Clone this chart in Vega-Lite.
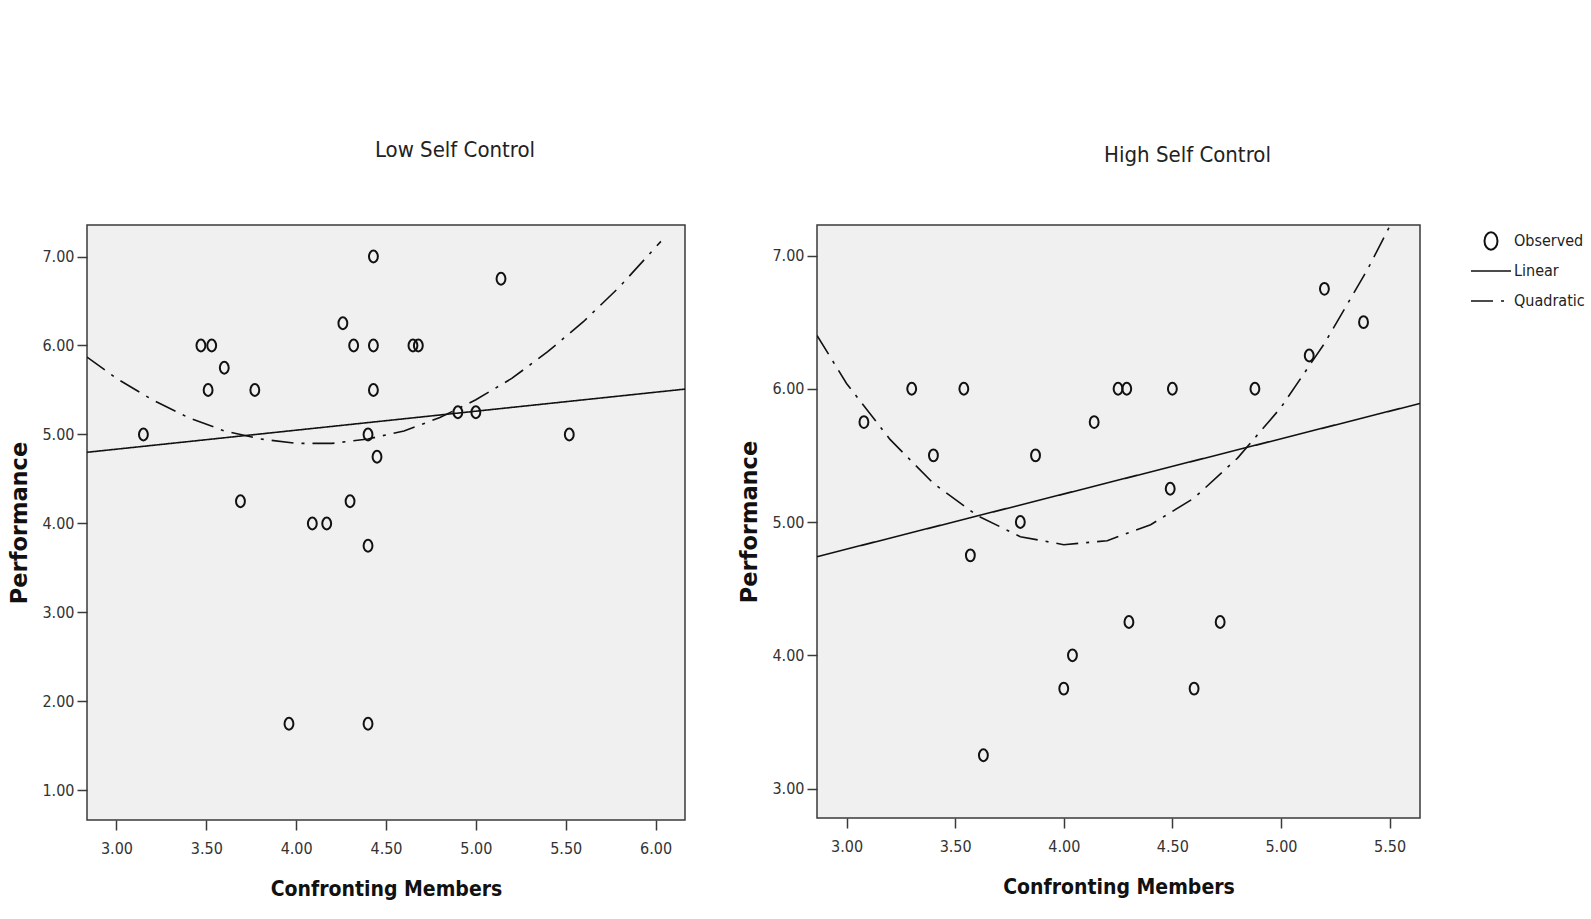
{
  "$schema": "https://vega.github.io/schema/vega-lite/v6.json",
  "background": "white",
  "padding": {"left": 8, "top": 138, "right": 0, "bottom": 5},
  "spacing": 52,
  "datasets": {
    "lowPts": [
      {"x": 3.15, "y": 5.0, "kind": "Observed"},
      {"x": 3.47, "y": 6.0, "kind": "Observed"},
      {"x": 3.53, "y": 6.0, "kind": "Observed"},
      {"x": 3.60, "y": 5.75, "kind": "Observed"},
      {"x": 3.51, "y": 5.5, "kind": "Observed"},
      {"x": 3.77, "y": 5.5, "kind": "Observed"},
      {"x": 3.69, "y": 4.25, "kind": "Observed"},
      {"x": 3.96, "y": 1.75, "kind": "Observed"},
      {"x": 4.09, "y": 4.0, "kind": "Observed"},
      {"x": 4.17, "y": 4.0, "kind": "Observed"},
      {"x": 4.26, "y": 6.25, "kind": "Observed"},
      {"x": 4.32, "y": 6.0, "kind": "Observed"},
      {"x": 4.30, "y": 4.25, "kind": "Observed"},
      {"x": 4.43, "y": 7.0, "kind": "Observed"},
      {"x": 4.43, "y": 6.0, "kind": "Observed"},
      {"x": 4.43, "y": 5.5, "kind": "Observed"},
      {"x": 4.40, "y": 5.0, "kind": "Observed"},
      {"x": 4.45, "y": 4.75, "kind": "Observed"},
      {"x": 4.40, "y": 3.75, "kind": "Observed"},
      {"x": 4.40, "y": 1.75, "kind": "Observed"},
      {"x": 4.65, "y": 6.0, "kind": "Observed"},
      {"x": 4.68, "y": 6.0, "kind": "Observed"},
      {"x": 4.90, "y": 5.25, "kind": "Observed"},
      {"x": 5.00, "y": 5.25, "kind": "Observed"},
      {"x": 5.14, "y": 6.75, "kind": "Observed"},
      {"x": 5.52, "y": 5.0, "kind": "Observed"}
    ],
    "lowFit": [
      {"x": 2.836, "y": 4.80, "fit": "Linear"},
      {"x": 6.164, "y": 5.51, "fit": "Linear"},
      {"x": 2.836, "y": 5.87, "fit": "Quadratic"},
      {"x": 3.0, "y": 5.63, "fit": "Quadratic"},
      {"x": 3.2, "y": 5.39, "fit": "Quadratic"},
      {"x": 3.4, "y": 5.19, "fit": "Quadratic"},
      {"x": 3.6, "y": 5.04, "fit": "Quadratic"},
      {"x": 3.8, "y": 4.95, "fit": "Quadratic"},
      {"x": 4.0, "y": 4.90, "fit": "Quadratic"},
      {"x": 4.2, "y": 4.90, "fit": "Quadratic"},
      {"x": 4.4, "y": 4.95, "fit": "Quadratic"},
      {"x": 4.6, "y": 5.04, "fit": "Quadratic"},
      {"x": 4.8, "y": 5.19, "fit": "Quadratic"},
      {"x": 5.0, "y": 5.39, "fit": "Quadratic"},
      {"x": 5.2, "y": 5.63, "fit": "Quadratic"},
      {"x": 5.4, "y": 5.93, "fit": "Quadratic"},
      {"x": 5.6, "y": 6.27, "fit": "Quadratic"},
      {"x": 5.8, "y": 6.66, "fit": "Quadratic"},
      {"x": 6.03, "y": 7.17, "fit": "Quadratic"}
    ],
    "highPts": [
      {"x": 3.08, "y": 5.75, "kind": "Observed"},
      {"x": 3.30, "y": 6.0, "kind": "Observed"},
      {"x": 3.40, "y": 5.5, "kind": "Observed"},
      {"x": 3.54, "y": 6.0, "kind": "Observed"},
      {"x": 3.57, "y": 4.75, "kind": "Observed"},
      {"x": 3.63, "y": 3.25, "kind": "Observed"},
      {"x": 3.80, "y": 5.0, "kind": "Observed"},
      {"x": 3.87, "y": 5.5, "kind": "Observed"},
      {"x": 4.00, "y": 3.75, "kind": "Observed"},
      {"x": 4.04, "y": 4.0, "kind": "Observed"},
      {"x": 4.14, "y": 5.75, "kind": "Observed"},
      {"x": 4.25, "y": 6.0, "kind": "Observed"},
      {"x": 4.29, "y": 6.0, "kind": "Observed"},
      {"x": 4.30, "y": 4.25, "kind": "Observed"},
      {"x": 4.50, "y": 6.0, "kind": "Observed"},
      {"x": 4.49, "y": 5.25, "kind": "Observed"},
      {"x": 4.60, "y": 3.75, "kind": "Observed"},
      {"x": 4.72, "y": 4.25, "kind": "Observed"},
      {"x": 4.88, "y": 6.0, "kind": "Observed"},
      {"x": 5.13, "y": 6.25, "kind": "Observed"},
      {"x": 5.20, "y": 6.75, "kind": "Observed"},
      {"x": 5.38, "y": 6.5, "kind": "Observed"}
    ],
    "highFit": [
      {"x": 2.864, "y": 4.74, "fit": "Linear"},
      {"x": 5.64, "y": 5.89, "fit": "Linear"},
      {"x": 2.864, "y": 6.40, "fit": "Quadratic"},
      {"x": 3.0, "y": 6.04, "fit": "Quadratic"},
      {"x": 3.2, "y": 5.62, "fit": "Quadratic"},
      {"x": 3.4, "y": 5.29, "fit": "Quadratic"},
      {"x": 3.6, "y": 5.05, "fit": "Quadratic"},
      {"x": 3.8, "y": 4.89, "fit": "Quadratic"},
      {"x": 4.0, "y": 4.83, "fit": "Quadratic"},
      {"x": 4.2, "y": 4.86, "fit": "Quadratic"},
      {"x": 4.4, "y": 4.98, "fit": "Quadratic"},
      {"x": 4.6, "y": 5.18, "fit": "Quadratic"},
      {"x": 4.8, "y": 5.48, "fit": "Quadratic"},
      {"x": 5.0, "y": 5.86, "fit": "Quadratic"},
      {"x": 5.2, "y": 6.34, "fit": "Quadratic"},
      {"x": 5.4, "y": 6.90, "fit": "Quadratic"},
      {"x": 5.51, "y": 7.25, "fit": "Quadratic"}
    ]
  },
  "hconcat": [
    {
      "width": 598,
      "height": 595,
      "title": {"text": "Low Self Control", "dx": 69, "offset": 63},
      "layer": [
        {
          "data": {"name": "lowFit"},
          "mark": {"type": "line", "color": "#111", "strokeWidth": 1.6, "clip": true},
          "encoding": {
            "x": {"field": "x", "type": "quantitative", "scale": {"domain": [2.836, 6.164], "nice": false, "zero": false}, "axis": {"values": [3, 3.5, 4, 4.5, 5, 5.5, 6], "format": ".2f", "title": "Confronting Members"}},
            "y": {"field": "y", "type": "quantitative", "scale": {"domain": [0.668, 7.354], "nice": false, "zero": false}, "axis": {"values": [1, 2, 3, 4, 5, 6, 7], "format": ".2f", "title": "Performance"}},
            "strokeDash": {"field": "fit", "type": "nominal", "scale": {"domain": ["Linear", "Quadratic"], "range": [[1, 0], [22, 8, 3, 8]]}, "legend": null}
          }
        },
        {
          "data": {"name": "lowPts"},
          "mark": {"type": "point", "filled": false, "color": "#111", "strokeWidth": 2, "size": 140, "opacity": 1},
          "encoding": {
            "x": {"field": "x", "type": "quantitative"},
            "y": {"field": "y", "type": "quantitative"},
            "shape": {"field": "kind", "type": "nominal", "scale": {"domain": ["Observed"], "range": ["M -0.75 0 A 0.75 1 0 1 1 0.75 0 A 0.75 1 0 1 1 -0.75 0 Z"]}, "legend": null}
          }
        }
      ]
    },
    {
      "width": 603,
      "height": 593,
      "title": {"text": "High Self Control", "dx": 69, "offset": 58},
      "layer": [
        {
          "data": {"name": "highFit"},
          "mark": {"type": "line", "color": "#111", "strokeWidth": 1.6, "clip": true},
          "encoding": {
            "x": {"field": "x", "type": "quantitative", "scale": {"domain": [2.864, 5.64], "nice": false, "zero": false}, "axis": {"values": [3, 3.5, 4, 4.5, 5, 5.5], "format": ".2f", "title": "Confronting Members"}},
            "y": {"field": "y", "type": "quantitative", "scale": {"domain": [2.779, 7.229], "nice": false, "zero": false}, "axis": {"values": [3, 4, 5, 6, 7], "format": ".2f", "title": "Performance"}},
            "strokeDash": {"field": "fit", "type": "nominal", "scale": {"domain": ["Linear", "Quadratic"], "range": [[1, 0], [22, 8, 3, 8]]},
              "legend": {"title": null, "orient": "none", "legendX": 653, "legendY": 36, "symbolType": "stroke", "symbolSize": 1600, "symbolStrokeWidth": 1.5, "symbolStrokeColor": "#111", "labelOffset": 2, "clipHeight": 20, "rowPadding": 10, "padding": 0}}
          }
        },
        {
          "data": {"name": "highPts"},
          "mark": {"type": "point", "filled": false, "color": "#111", "strokeWidth": 2, "size": 140, "opacity": 1},
          "encoding": {
            "x": {"field": "x", "type": "quantitative"},
            "y": {"field": "y", "type": "quantitative"},
            "shape": {"field": "kind", "type": "nominal", "scale": {"domain": ["Observed"], "range": ["M -0.75 0 A 0.75 1 0 1 1 0.75 0 A 0.75 1 0 1 1 -0.75 0 Z"]},
              "legend": {"title": null, "orient": "none", "legendX": 664, "legendY": 6, "symbolSize": 300, "symbolStrokeWidth": 2, "symbolStrokeColor": "#111", "symbolFillColor": "transparent", "labelOffset": 13, "padding": 0}}
          }
        }
      ]
    }
  ],
  "resolve": {
    "scale": {"shape": "independent", "strokeDash": "independent"},
    "legend": {"shape": "independent", "strokeDash": "independent"}
  },
  "config": {
    "view": {"stroke": "#3a3a3a", "strokeWidth": 1.5, "fill": "#f0f0f0"},
    "axis": {
      "domain": false,
      "grid": false,
      "tickColor": "#3a3a3a",
      "tickWidth": 1.5,
      "tickSize": 10,
      "labelFont": "DejaVu Sans Condensed, sans-serif",
      "labelFontSize": 16,
      "labelColor": "#333",
      "titleColor": "#111"
    },
    "axisX": {
      "labelPadding": 10,
      "titleFont": "DejaVu Sans Condensed, sans-serif",
      "titleFontSize": 21,
      "titleFontWeight": "bold",
      "titlePadding": 22
    },
    "axisY": {
      "labelPadding": 3,
      "titleFont": "DejaVu Sans",
      "titleFontSize": 22.5,
      "titleFontWeight": "bold",
      "titlePadding": 10
    },
    "title": {
      "font": "DejaVu Sans Condensed, sans-serif",
      "fontSize": 22,
      "fontWeight": "normal",
      "color": "#222",
      "anchor": "middle"
    },
    "legend": {
      "labelFont": "DejaVu Sans Condensed, sans-serif",
      "labelFontSize": 16,
      "labelColor": "#222"
    }
  }
}
